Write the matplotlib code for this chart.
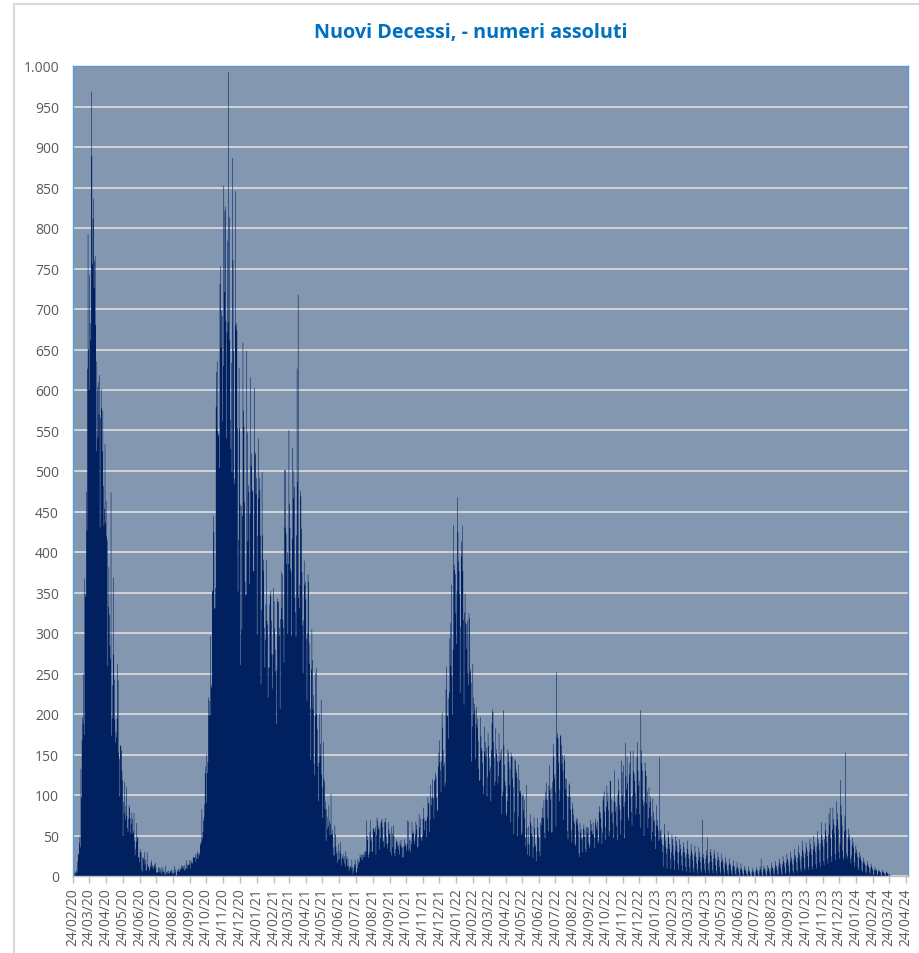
import numpy as np
import pandas as pd
import matplotlib
matplotlib.use("Agg")
import matplotlib.pyplot as plt
from matplotlib.patches import Rectangle
from matplotlib.ticker import FuncFormatter, MultipleLocator

# ---------------- data (daily new deaths, from 24/02/2020) ----------------
start_date = "2020-02-24"

deaths_2020 = [
    7, 4, 1, 5, 4, 8,
    5, 18, 27, 28, 41, 49, 36, 133, 97, 168, 196, 189, 250, 175, 368, 349, 345, 475, 427, 627,
    793, 651, 601, 743, 683, 662, 969, 889, 756, 812, 837,
    727, 760, 766, 681, 525, 636, 604, 542, 610, 570, 619, 431, 566, 602, 578, 525, 575, 482, 433, 454,
    534, 437, 464, 420, 415, 260, 333, 382, 323, 285,
    269, 474, 174, 195, 236, 369, 274, 243, 194, 165, 179, 172, 195, 262, 242, 153, 145, 99, 162, 161,
    156, 130, 119, 50, 92, 78, 117, 70, 87, 111, 75,
    60, 55, 71, 88, 85, 72, 53, 65, 79, 71, 53, 56, 78, 44, 26, 34, 43, 66, 47, 49,
    24, 23, 18, 30, 34, 30, 8, 24, 6, 23,
    21, 30, 15, 21, 7, 8, 30, 15, 12, 12, 7, 9, 13, 17, 20, 11, 14, 12, 9, 13,
    15, 17, 10, 5, 5, 5, 5, 11, 11, 6, 9,
    5, 3, 12, 6, 10, 6, 3, 6, 2, 13, 4, 6, 6, 3, 7, 4, 4, 7, 6, 5,
    9, 3, 7, 4, 4, 13, 5, 9, 1, 2, 6,
    8, 10, 6, 6, 10, 8, 10, 14, 10, 13, 10, 13, 7, 14, 9, 9, 20, 10, 15, 14,
    14, 15, 20, 10, 20, 17, 17, 16, 24, 23,
    24, 23, 27, 18, 22, 28, 31, 22, 28, 29, 26, 39, 41, 43, 83, 47, 55, 69, 73, 89,
    127, 136, 91, 151, 128, 141, 221, 199, 217, 199, 297,
    236, 233, 353, 352, 445, 425, 331, 331, 356, 580, 623, 636, 550, 544, 546, 504, 731, 753, 653, 699,
    692, 562, 630, 853, 722, 822, 827, 686, 541, 672,
    785, 684, 993, 814, 662, 564, 528, 634, 499, 887, 761, 649, 484, 491, 846, 680, 683, 674, 553, 352,
    415, 628, 553, 459, 261, 457, 305, 445, 659, 575, 555,
]

deaths_2021 = [
    462, 364, 347, 348, 649, 548, 414, 483, 475, 361, 448, 616, 507, 522, 475, 477, 377, 377, 603, 524,
    521, 472, 492, 299, 420, 541, 467, 492, 477, 421, 237,
    329, 499, 421, 377, 391, 307, 258, 292, 336, 391, 316, 311, 221, 258, 258, 336, 347, 353, 316, 274,
    232, 274, 356, 340, 306, 253, 280, 188,
    255, 343, 339, 339, 297, 307, 207, 318, 376, 332, 373, 317, 307, 264, 502, 431, 502, 423, 386, 401,
    300, 386, 551, 460, 430, 380, 376, 297, 417, 529, 467,
    501, 481, 344, 326, 296, 421, 627, 487, 718, 344, 331, 360, 476, 469, 429, 376, 310, 251, 316, 390,
    360, 364, 342, 293, 217, 301, 373, 364, 288, 263,
    207, 144, 256, 305, 267, 207, 224, 139, 125, 198, 251, 258, 201, 182, 136, 93, 140, 201, 149, 164,
    218, 126, 72, 110, 166, 121, 117, 83, 93, 44, 83,
    73, 59, 62, 88, 68, 51, 65, 102, 52, 58, 52, 26, 36, 26, 63, 52, 37, 28, 31, 17,
    21, 40, 21, 31, 42, 28, 14, 22, 24, 28,
    21, 25, 16, 12, 31, 21, 25, 13, 22, 13, 7, 10, 13, 12, 10, 21, 12, 3, 7, 11,
    15, 21, 15, 5, 5, 10, 22, 15, 19, 18, 27,
    24, 22, 27, 20, 27, 24, 27, 30, 24, 31, 31, 69, 45, 50, 23, 27, 30, 55, 69, 44,
    48, 30, 31, 59, 60, 55, 57, 61, 27, 51, 73,
    69, 58, 62, 59, 33, 47, 66, 68, 71, 61, 43, 44, 36, 67, 72, 67, 50, 40, 34, 41,
    67, 58, 52, 53, 30, 26, 61, 53, 36, 63,
    50, 29, 25, 34, 42, 46, 43, 37, 39, 33, 27, 43, 39, 45, 36, 36, 23, 24, 37, 46,
    38, 41, 37, 32, 40, 69, 32, 68, 45, 34, 30,
    44, 40, 67, 53, 56, 53, 40, 44, 52, 68, 64, 58, 36, 37, 49, 77, 61, 72, 48, 48,
    44, 50, 71, 85, 72, 57, 68, 69, 49, 70,
    74, 98, 91, 90, 55, 70, 113, 97, 88, 120, 97, 96, 72, 118, 120, 128, 123, 97, 82, 81,
    136, 153, 168, 141, 131, 104, 142, 202, 184, 156, 136,
]

deaths_2022 = [
    140, 111, 116, 231, 259, 198, 198, 220, 170, 227, 294, 313, 260, 360, 248, 200, 280, 434, 385, 378,
    373, 325, 287, 352, 468, 426, 389, 377, 349, 227, 308,
    414, 395, 433, 377, 317, 212, 326, 349, 313, 281, 311, 316, 251, 236, 325, 319, 252, 256, 239, 142,
    185, 262, 221, 200, 213, 205, 145, 188,
    209, 184, 195, 167, 133, 118, 119, 197, 173, 159, 155, 140, 112, 102, 185, 154, 166, 148, 159, 99,
    123, 177, 161, 146, 130, 135, 93, 156, 189, 206, 203,
    166, 146, 112, 117, 183, 157, 151, 142, 115, 124, 177, 142, 153, 144, 157, 77, 100, 105, 205, 162,
    138, 118, 112, 78, 75, 93, 157, 153, 141, 113,
    133, 67, 153, 148, 148, 121, 110, 52, 79, 145, 143, 132, 128, 122, 50, 74, 138, 119, 105, 106,
    102, 51, 54, 100, 102, 82, 95, 72, 48, 37, 113,
    60, 27, 41, 62, 39, 25, 77, 67, 53, 63, 50, 23, 36, 73, 60, 40, 37, 19, 31, 72,
    61, 52, 48, 31, 25, 66, 63, 73, 85, 72,
    72, 94, 54, 47, 105, 95, 116, 94, 72, 56, 112, 137, 106, 95, 109, 54, 55, 117, 163, 148,
    121, 126, 104, 62, 252, 172, 177, 170, 141, 93, 107,
    173, 175, 162, 139, 150, 130, 70, 150, 143, 121, 108, 120, 100, 56, 46, 98, 115, 113, 98, 82,
    57, 42, 91, 84, 76, 68, 65, 40, 38, 72, 68,
    71, 64, 56, 29, 24, 66, 54, 58, 46, 30, 48, 59, 64, 49, 58, 34, 30, 61, 54, 61,
    60, 41, 35, 38, 70, 56, 65, 57, 52, 67,
    52, 35, 48, 71, 66, 62, 58, 68, 41, 44, 80, 87, 79, 72, 60, 40, 54, 94, 99, 105,
    80, 61, 45, 86, 112, 93, 103, 82, 50, 56, 118,
    118, 78, 95, 80, 66, 47, 93, 131, 92, 80, 86, 62, 45, 101, 120, 106, 88, 82, 52, 70,
    143, 129, 100, 137, 86, 47, 92, 165, 124, 108,
    148, 115, 73, 69, 126, 140, 155, 98, 80, 63, 100, 155, 130, 127, 118, 103, 76, 84, 148, 166,
    131, 112, 118, 77, 60, 205, 156, 140, 131, 95, 88,
]

deaths_2023 = [
    50, 92, 141, 130, 124, 90, 105, 60, 72, 110, 85, 92, 98, 74, 44, 55, 96, 79, 68, 70,
    50, 34, 63, 88, 70, 62, 57, 44, 147, 46, 56,
    58, 46, 40, 30, 12, 38, 65, 52, 44, 36, 28, 10, 34, 56, 48, 40, 34, 22, 9, 30,
    52, 46, 38, 26, 20, 8, 32, 50,
    44, 38, 30, 16, 8, 30, 46, 40, 34, 26, 14, 7, 30, 42, 36, 30, 24, 12, 6, 28,
    44, 34, 28, 22, 12, 5, 26, 40, 32, 28, 20,
    10, 5, 26, 38, 30, 24, 16, 9, 4, 20, 36, 30, 24, 18, 8, 5, 24, 70, 28, 22,
    16, 8, 4, 22, 32, 26, 48, 16, 8, 4,
    18, 30, 34, 26, 18, 8, 4, 22, 33, 28, 22, 14, 7, 3, 20, 30, 24, 20, 12, 6,
    3, 18, 28, 22, 18, 10, 5, 2, 16, 24, 18,
    14, 8, 4, 2, 14, 22, 16, 14, 8, 4, 2, 12, 20, 14, 12, 7, 3, 2, 10, 18,
    12, 10, 6, 3, 1, 9, 16, 10, 8, 4,
    3, 1, 8, 13, 9, 7, 4, 2, 1, 6, 12, 8, 6, 3, 1, 0, 5, 10, 7, 6,
    3, 1, 0, 6, 11, 8, 8, 4, 2, 1, 7,
    12, 9, 22, 5, 2, 1, 8, 13, 10, 9, 5, 2, 1, 7, 14, 11, 10, 6, 3, 1,
    9, 17, 12, 11, 7, 3, 2, 10, 19, 14, 12,
    8, 3, 2, 13, 22, 17, 15, 10, 4, 2, 15, 25, 19, 17, 12, 5, 3, 17, 28, 22,
    20, 14, 6, 3, 18, 31, 24, 21, 15, 7,
    4, 21, 34, 27, 24, 18, 8, 5, 23, 38, 30, 27, 20, 9, 6, 25, 44, 33, 30, 23,
    10, 7, 28, 42, 36, 32, 25, 12, 8, 30, 46,
    40, 34, 27, 13, 9, 33, 50, 42, 37, 30, 15, 10, 37, 56, 46, 41, 33, 17, 12, 41,
    67, 51, 45, 37, 19, 14, 46, 66, 57, 50,
    42, 22, 16, 52, 78, 64, 85, 47, 25, 18, 58, 85, 71, 64, 53, 28, 20, 62, 93, 78,
    70, 58, 30, 22, 40, 119, 88, 76, 63, 32, 24,
]

deaths_2024 = [
    20, 56, 74, 153, 58, 28, 22, 25, 48, 59, 52, 45, 22, 16, 26, 38, 47, 42, 36, 18,
    12, 29, 38, 33, 29, 24, 12, 8, 23, 30, 26,
    22, 19, 8, 6, 17, 23, 19, 16, 14, 6, 4, 13, 19, 15, 13, 11, 5, 3, 10, 16,
    12, 10, 8, 3, 2, 8, 12, 9, 7,
    8, 3, 2, 6, 9, 7, 6, 5, 2, 1, 5, 8, 6, 5, 4, 2, 1, 4, 6, 5,
    4, 3, 1, 1, 3, 2,
]

title = "Nuovi Decessi, - numeri assoluti"
tick_start, tick_end = "2020-02-24", "2024-04-24"

# ---------------- build ----------------
values = np.array(deaths_2020 + deaths_2021 + deaths_2022 + deaths_2023 + deaths_2024, dtype=float)
t0 = pd.Timestamp(start_date)
days = np.arange(len(values))

tick_dates = pd.date_range(tick_start, tick_end, freq=pd.DateOffset(months=1))
tick_pos = np.array([(d - t0).days for d in tick_dates])
tick_labels = [d.strftime("%d/%m/%y") for d in tick_dates]

plt.rcParams["font.family"] = ["Open Sans", "DejaVu Sans"]

fig = plt.figure(figsize=(9.2, 9.54), dpi=100)
fig.patch.set_facecolor("white")
ax = fig.add_axes([73 / 920, 1 - 877 / 954, (908 - 73) / 920, (877 - 67) / 954])
ax.set_facecolor("#8497B0")

# one-day-wide bars, drawn as a single stepped area so adjacent bars join seamlessly
ax.fill_between(days, values, 0, step="mid", color="#002060", linewidth=0, zorder=2)

ax.set_xlim(-0.6, tick_pos[-1] + 4.2)
ax.set_ylim(0, 1000)
ax.yaxis.set_major_locator(MultipleLocator(50))
ax.yaxis.set_major_formatter(FuncFormatter(lambda v, p: f"{int(round(v)):,}".replace(",", ".")))
ax.grid(axis="y", color="#D9D9D9", linewidth=1.3, zorder=1)
ax.set_axisbelow(True)

ax.set_xticks(tick_pos)
ax.set_xticklabels(tick_labels, rotation=90)
ax.tick_params(axis="x", length=5, color="#BFBFBF", width=1, labelsize=10, labelcolor="#595959", pad=3)
ax.tick_params(axis="y", length=0, labelsize=10, labelcolor="#595959", pad=10)

for side in ["left", "top", "right"]:
    ax.spines[side].set_color("#5B9BD5")
    ax.spines[side].set_linewidth(1.0)
ax.spines["bottom"].set_color("#BFBFBF")
ax.spines["bottom"].set_linewidth(1.0)

fig.text(471 / 920, 1 - 33 / 954, title, ha="center", va="center",
         fontsize=14.2, fontweight="bold", color="#0070C0")

fig.patches.append(Rectangle((14 / 920, -0.02), 1.2, 1 - 5 / 954 + 0.02, transform=fig.transFigure,
                             fill=False, edgecolor="#D9D9D9", linewidth=1.5))

fig.savefig("out.png", dpi=100)
